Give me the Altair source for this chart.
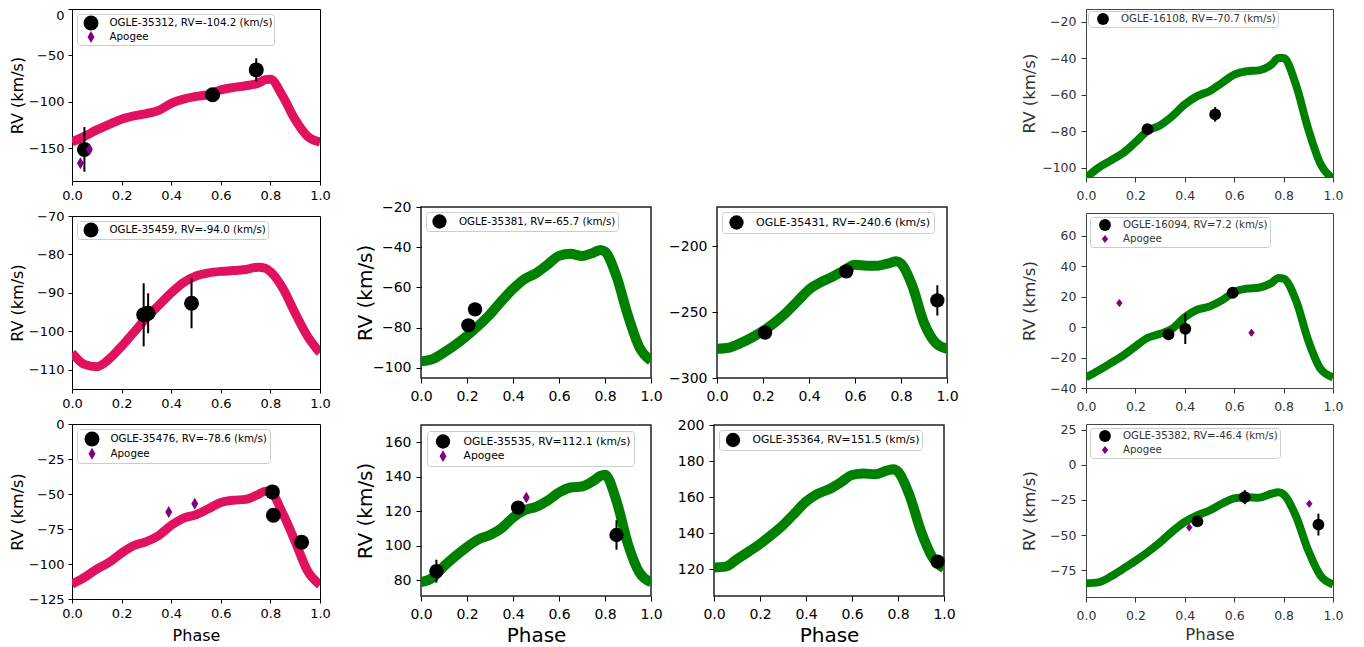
import altair as alt
import pandas as pd

FONT = "DejaVu Sans"
PINK = "#E0115F"
GREEN = "#008000"
PURPLE = "#800080"

PHASE = [0.0, 0.05, 0.1, 0.15, 0.2, 0.25, 0.3, 0.35, 0.4, 0.45, 0.5, 0.55,
         0.6, 0.65, 0.7, 0.75, 0.78, 0.8, 0.85, 0.9, 0.95, 1.0]
XTICKS = [0.0, 0.2, 0.4, 0.6, 0.8, 1.0]

# template curves
CURVE_35312 = [-143, -137, -130, -124, -118.5, -115, -112.5, -109, -101.5, -97, -94, -92,
               -87, -84.5, -82.5, -80, -76, -75.5, -94, -119, -137, -143]
CURVE_35459 = [-105.6, -108.6, -109.2, -107.2, -103.9, -100.2, -96.5, -93.2, -90.0, -87.3, -85.6, -84.8,
               -84.4, -84.2, -83.9, -83.3, -83.6, -84.5, -88.8, -95.3, -101.3, -105.6]
CURVE_35476 = [-114.4, -109.6, -103.6, -98.8, -92.1, -86.8, -84, -79.6, -72.4, -67.2, -64.8, -60.5,
               -56.1, -54.5, -53.8, -50.4, -48, -48.5, -64, -84, -105, -115]
CURVE_35381 = [-96.7, -95.6, -92.3, -88.5, -84, -79, -73.4, -66.8, -60.7, -55.8, -52.9, -48.7,
               -44.3, -43.3, -44.3, -42.7, -41.4, -42.2, -54.5, -74, -89.8, -96.4]
CURVE_35431 = [-277.8, -277, -273.7, -269.4, -264.3, -258, -250.5, -241.6, -232.8, -227.3, -223.2, -218.4,
               -213.9, -214.6, -214.6, -212.6, -211.3, -213, -230.3, -258, -273.2, -277.8]
CURVE_35535 = [79, 81.5, 88.3, 94.1, 99.4, 103.8, 106.3, 110.2, 116.4, 120.7, 122.6, 126.1,
               130.9, 133.8, 134.4, 137.7, 140.5, 141.2, 126, 101, 84.5, 79]
CURVE_35364 = [120.9, 121.3, 125.4, 129.6, 133.9, 138.9, 144.4, 150.9, 157.4, 161.7, 164.3, 168,
               172.2, 173.1, 172.6, 174.6, 175.4, 174.1, 161, 141, 126.5, 120.4]
CURVE_16108 = [-105.5, -100, -96, -91.9, -86, -79.7, -76.7, -71.6, -65.2, -60.7, -58, -53.5,
               -49, -47.1, -46.6, -43.5, -39.9, -39.9, -54.5, -78.8, -98, -106]
CURVE_16094 = [-33, -28.6, -23.7, -18.7, -12.7, -7, -4.4, -1, 6.6, 11.4, 13.6, 17.6,
               23.1, 25.3, 25.9, 29, 32.3, 31.9, 17.6, -8.8, -27.5, -33]
CURVE_35382 = [-84.3, -83.6, -79.5, -74, -68.3, -62.1, -55.2, -47.3, -40.6, -35.9, -32.5, -27.7,
               -23.9, -23, -23.4, -20.6, -19.6, -21.1, -36.5, -61, -79, -85]

# observed points (phase, rv, error) and Apogee points
OBS_35312 = ([0.05, 0.567, 0.743], [-151, -92.3, -65.5], [24, 2, 12.5])
APO_35312 = ([0.034, 0.07], [-166, -151], [0, 0])
OBS_35459 = ([0.289, 0.307, 0.482], [-95.7, -95.3, -92.7], [8.2, 5.2, 6.5])
OBS_35476 = ([0.808, 0.812, 0.926], [-48.5, -65.2, -84.5], [2, 4, 3])
APO_35476 = ([0.39, 0.495], [-62.9, -56.9], [0, 0])
OBS_35381 = ([0.206, 0.235], [-78.8, -70.9], [1.5, 1.5])
OBS_35431 = ([0.209, 0.562, 0.958], [-265.5, -218.9, -241], [2, 2, 11.5])
OBS_35535 = ([0.067, 0.422, 0.85], [85.4, 122.2, 106.3], [6.6, 2, 8.5])
APO_35535 = ([0.458], [128], [0])
OBS_35364 = ([0.972], [124.1], [2])
OBS_16108 = ([0.249, 0.523], [-78.8, -70.7], [1, 4])
OBS_16094 = ([0.334, 0.402, 0.594], [-4.8, -1.1, 22.6], [1, 10, 1])
APO_16094 = ([0.135, 0.67], [15.8, -3.7], [2, 2])
OBS_35382 = ([0.451, 0.643, 0.941], [-40.2, -23, -42.5], [1, 5, 7.8])
APO_35382 = ([0.418, 0.904], [-44.5, -27.7], [2, 2])
NONE = ([], [], [])

THIN = "M0,-1L0.58,0L0,1L-0.58,0Z"
SMALLD = "M0,-1L0.8,0L0,1L-0.8,0Z"

STY_L = dict(line=PINK, lw=9, tfs=13, ttl=16, lfs=10.3, tick=4, ylp=4, xlp=4, ytp=3, xtp=7,
             ext=44, csize=225, dsize=144, dpath=THIN, tc="black", frame="black", fw=1,
             loff=5, lpad=1.5, lrow=0.5, lso=5, llo=11, flush=False)
STY_M = dict(STY_L, line=GREEN, lw=10, tfs=14, ttl=20, lfs=10.3, tick=5, ylp=5, xlp=6, ytp=0,
             xtp=4, ext=46, csize=205, dsize=140, frame="#222222", fw=1.5, lpad=2, lso=4, llo=12)
STY_R = dict(STY_L, line=GREEN, lw=8, tfs=12.5, ttl=16.5, lfs=10.2, tick=5, ylp=5, xlp=7, ytp=4,
             xtp=5, ext=45, csize=140, dsize=64, dpath=SMALLD, tc="#333333", frame="#444444",
             fw=1, loff=4, lpad=2, lrow=3, lso=7, llo=12)


def panel(curve, obs, apo, label, ydom, yticks, w, h, s, ytitle=True, xtitle=False, **kw):
    s = dict(s, **kw)
    cdf = pd.DataFrame({"phase": PHASE, "rv": curve})
    rows = []
    for p, v, e in zip(*obs):
        rows.append({"phase": p, "rv": v, "lo": v - e, "hi": v + e, "series": label, "ecol": "black"})
    for p, v, e in zip(*apo):
        rows.append({"phase": p, "rv": v, "lo": v - e, "hi": v + e, "series": "Apogee", "ecol": PURPLE})
    pdf = pd.DataFrame(rows)
    if len(apo[0]):
        dom = [label, "Apogee"]
        cols = ["black", PURPLE]
        shapes = ["circle", s["dpath"]]
        sizes = [s["csize"], s["dsize"]]
    else:
        dom = [label]
        cols = ["black", "black"]
        shapes = ["circle", "circle"]
        sizes = [s["csize"], s["csize"]]

    xs = alt.Scale(domain=[0, 1], nice=False, zero=False)
    ys = alt.Scale(domain=ydom, nice=False, zero=False)
    xaxis = alt.Axis(values=XTICKS, format=".1f", title="Phase" if xtitle else None,
                     labelFont=FONT, labelFontSize=s["tfs"], labelColor=s["tc"],
                     titleFont=FONT, titleFontSize=s["ttl"], titleFontWeight="normal",
                     titleColor=s["tc"], tickColor=s["tc"], tickSize=s["tick"], tickWidth=1,
                     labelPadding=s["xlp"], titlePadding=s["xtp"], domain=False, grid=False,
                     labelFlush=False, labelOverlap=False)
    yaxis = alt.Axis(values=yticks, format="d", title="RV (km/s)" if ytitle else None,
                     labelFont=FONT, labelFontSize=s["tfs"], labelColor=s["tc"],
                     titleFont=FONT, titleFontSize=s["ttl"], titleFontWeight="normal",
                     titleColor=s["tc"], tickColor=s["tc"], tickSize=s["tick"], tickWidth=1,
                     labelPadding=s["ylp"], titlePadding=s["ytp"], domain=False, grid=False,
                     labelFlush=s["flush"], labelOverlap=False,
                     minExtent=s["ext"], maxExtent=s["ext"])
    X = alt.X("phase:Q", scale=xs, axis=xaxis)
    Y = alt.Y("rv:Q", scale=ys, axis=yaxis)

    line = alt.Chart(cdf).mark_line(color=s["line"], strokeWidth=s["lw"], clip=True,
                                    interpolate="monotone").encode(x=X, y=Y)
    err = alt.Chart(pdf).mark_rule(strokeWidth=2).encode(
        x=X, y=alt.Y("lo:Q", scale=ys, axis=yaxis), y2="hi:Q",
        stroke=alt.Stroke("ecol:N", scale=None))
    leg = alt.Legend(title=None, orient="top-left", offset=s["loff"], padding=s["lpad"],
                     rowPadding=s["lrow"], fillColor="white", strokeColor="#cccccc",
                     cornerRadius=3, labelFont=FONT, labelFontSize=s["lfs"],
                     labelColor=s["tc"], labelLimit=400, symbolOffset=s["lso"],
                     labelOffset=s["llo"], symbolStrokeWidth=0, symbolOpacity=1)
    pts = alt.Chart(pdf).mark_point(filled=True, opacity=1, strokeWidth=0).encode(
        x=X, y=Y,
        color=alt.Color("series:N", scale=alt.Scale(domain=dom, range=cols), legend=leg),
        shape=alt.Shape("series:N", scale=alt.Scale(domain=dom, range=shapes), legend=leg),
        size=alt.Size("series:N", scale=alt.Scale(domain=dom, range=sizes), legend=leg))
    return alt.layer(line, err, pts).properties(
        width=w, height=h, view=alt.ViewBackground(stroke=s["frame"], strokeWidth=s["fw"]))


IND = dict(color="independent", shape="independent", size="independent")

A = panel(CURVE_35312, OBS_35312, APO_35312, "OGLE-35312, RV=-104.2 (km/s)",
          [-185, 0], [0, -50, -100, -150], 248, 172, STY_L, flush=True)
B = panel(CURVE_35459, OBS_35459, NONE, "OGLE-35459, RV=-94.0 (km/s)",
          [-115, -70], [-70, -80, -90, -100, -110], 248, 173, STY_L)
C = panel(CURVE_35476, OBS_35476, APO_35476, "OGLE-35476, RV=-78.6 (km/s)",
          [-125, 0], [0, -25, -50, -75, -100, -125], 248, 175, STY_L, xtitle=True, lpad=2.5, lrow=1.3)

D = panel(CURVE_35381, OBS_35381, NONE, "OGLE-35381, RV=-65.7 (km/s)",
          [-105, -20], [-20, -40, -60, -80, -100], 230, 171, STY_M)
E = panel(CURVE_35431, OBS_35431, NONE, "OGLE-35431, RV=-240.6 (km/s)",
          [-300, -170], [-200, -250, -300], 230, 171, STY_M, ytitle=False, lfs=11, lpad=3)
F = panel(CURVE_35535, OBS_35535, APO_35535, "OGLE-35535, RV=112.1 (km/s)",
          [71, 170], [80, 100, 120, 140, 160], 230, 171, STY_M, xtitle=True, lfs=10.8,
          lpad=3, lrow=1.2, lso=5.5, llo=13, loff=6)
G = panel(CURVE_35364, OBS_35364, NONE, "OGLE-35364, RV=151.5 (km/s)",
          [105, 200], [120, 140, 160, 180, 200], 230, 171, STY_M, ytitle=False, xtitle=True,
          lfs=10.8, lpad=2.5)

H = panel(CURVE_16108, OBS_16108, NONE, "OGLE-16108, RV=-70.7 (km/s)",
          [-105, -13], [-20, -40, -60, -80, -100], 247, 168, STY_R, loff=2)
I = panel(CURVE_16094, OBS_16094, APO_16094, "OGLE-16094, RV=7.2 (km/s)",
          [-40, 75], [-40, -20, 0, 20, 40, 60], 247, 175, STY_R)
J = panel(CURVE_35382, OBS_35382, APO_35382, "OGLE-35382, RV=-46.4 (km/s)",
          [-94, 29], [25, 0, -25, -50, -75], 247, 173, STY_R, xtitle=True)

spacer = alt.Chart(pd.DataFrame({"a": [0]})).mark_point(opacity=0).encode(
    x=alt.X("a:Q", axis=None), y=alt.Y("a:Q", axis=None)
).properties(width=1, height=176, view=alt.ViewBackground(stroke="transparent"))

left = alt.vconcat(A, B, C, spacing=6).resolve_scale(**IND)
row1 = alt.hconcat(D, E, spacing=4).resolve_scale(**IND)
row2 = alt.hconcat(F, G, spacing=4).resolve_scale(**IND)
mid = alt.vconcat(spacer, row1, row2, spacing=13).resolve_scale(**IND)
right = alt.vconcat(H, I, J, spacing=10).resolve_scale(**IND)
lm = alt.hconcat(left, mid, spacing=23).resolve_scale(**IND)

chart = alt.hconcat(lm, right, spacing=61).resolve_scale(**IND).properties(
    padding=0, background="white").configure(font=FONT)

chart.save("out.html", embed_options={"renderer": "svg", "actions": False})
